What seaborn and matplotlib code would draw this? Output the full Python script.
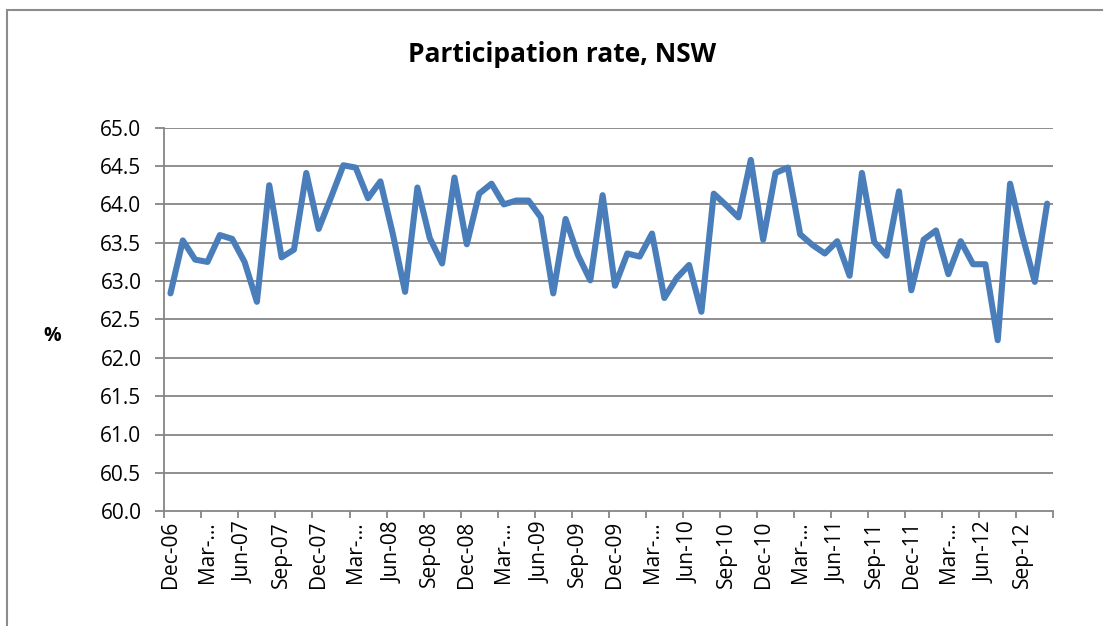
import matplotlib
matplotlib.use("Agg")
import matplotlib.pyplot as plt
import seaborn as sns
import pandas as pd
from matplotlib.patches import Rectangle

# Monthly participation rate, NSW, Dec-06 .. Nov-12
months = list(pd.date_range("2006-12-01", periods=72, freq="MS").strftime("%b-%y"))
rate = [62.84, 63.53, 63.28, 63.25, 63.60, 63.55, 63.25, 62.73, 64.25, 63.31,
        63.41, 64.41, 63.68, 64.09, 64.51, 64.48, 64.08, 64.30, 63.62, 62.86,
        64.22, 63.56, 63.23, 64.35, 63.48, 64.14, 64.27, 64.00, 64.05, 64.05,
        63.83, 62.84, 63.81, 63.34, 63.01, 64.12, 62.94, 63.36, 63.32, 63.62,
        62.78, 63.04, 63.21, 62.60, 64.14, 63.99, 63.83, 64.58, 63.54, 64.41,
        64.48, 63.61, 63.47, 63.36, 63.52, 63.07, 64.41, 63.51, 63.33, 64.17,
        62.88, 63.54, 63.66, 63.09, 63.52, 63.22, 63.22, 62.23, 64.27, 63.59,
        62.99, 64.01]
tick_labels = ["Dec-06", "Mar-\u2026", "Jun-07", "Sep-07", "Dec-07", "Mar-\u2026",
               "Jun-08", "Sep-08", "Dec-08", "Mar-\u2026", "Jun-09", "Sep-09",
               "Dec-09", "Mar-\u2026", "Jun-10", "Sep-10", "Dec-10", "Mar-\u2026",
               "Jun-11", "Sep-11", "Dec-11", "Mar-\u2026", "Jun-12", "Sep-12"]
y_ticks = [60.0, 60.5, 61.0, 61.5, 62.0, 62.5, 63.0, 63.5, 64.0, 64.5, 65.0]

df = pd.DataFrame({"idx": range(len(months)), "month": months, "rate": rate})

sns.set_theme(style="white")
plt.rcParams['font.family'] = ['Open Sans', 'DejaVu Sans']
plt.rcParams['text.color'] = 'black'
plt.rcParams['xtick.labelcolor'] = 'black'
plt.rcParams['ytick.labelcolor'] = 'black'

W, H = 1103, 626
fig = plt.figure(figsize=(W / 100, H / 100), dpi=100)
fig.patch.set_facecolor("white")
ax = fig.add_axes([164.3 / W, 1 - 511.2 / H, (1053.3 - 164.3) / W, (511.2 - 127.7) / H])

grid_c = "#868686"
for v in y_ticks[1:]:
    ax.axhline(v, color=grid_c, lw=1.3, zorder=1)

sns.lineplot(data=df, x="idx", y="rate", ax=ax, color="#4a7ebb", lw=4.4,
             solid_joinstyle="round", zorder=3)

ax.set_xlim(-0.5, len(months) - 0.5)
ax.set_ylim(60, 65)
ax.set_yticks(y_ticks)
ax.set_yticklabels([f"{v:.1f}" for v in y_ticks], fontsize=15)

# major ticks at group boundaries, labels at category centres
bounds = [i - 0.5 for i in range(0, len(months) + 1, 3)]
ax.set_xticks(bounds)
ax.set_xticklabels([])
centers = list(range(0, len(months), 3))
ax.set_xticks(centers, minor=True)
ax.set_xticklabels(tick_labels, minor=True, rotation=90, fontsize=15, va="top", ha="center")
ax.tick_params(axis="x", which="major", direction="out", length=5, width=1.3, color=grid_c, bottom=True)
ax.tick_params(axis="x", which="minor", length=0, pad=7, bottom=True)
ax.tick_params(axis="y", direction="out", length=6.5, width=1.3, color=grid_c, left=True, pad=10)

for s in ["top", "right"]:
    ax.spines[s].set_visible(False)
for s in ["left", "bottom"]:
    ax.spines[s].set_color(grid_c)
    ax.spines[s].set_linewidth(1.3)

ax.set_xlabel("")
ax.set_ylabel("")
fig.text(52 / W, 1 - 336 / H, "%", fontsize=14, fontweight="bold", ha="center", va="center")
fig.text(562 / W, 1 - 55 / H, "Participation rate, NSW", fontsize=19, fontweight="bold",
         ha="center", va="center")

# chart-area border (cropped at right and bottom)
fig.patches.append(Rectangle((7 / W, -0.05), 1.1, 1 - 10 / H + 0.05, transform=fig.transFigure,
                             fill=False, edgecolor="#8c8c8c", lw=1.5))

fig.savefig("out.png", dpi=100, facecolor="white")
